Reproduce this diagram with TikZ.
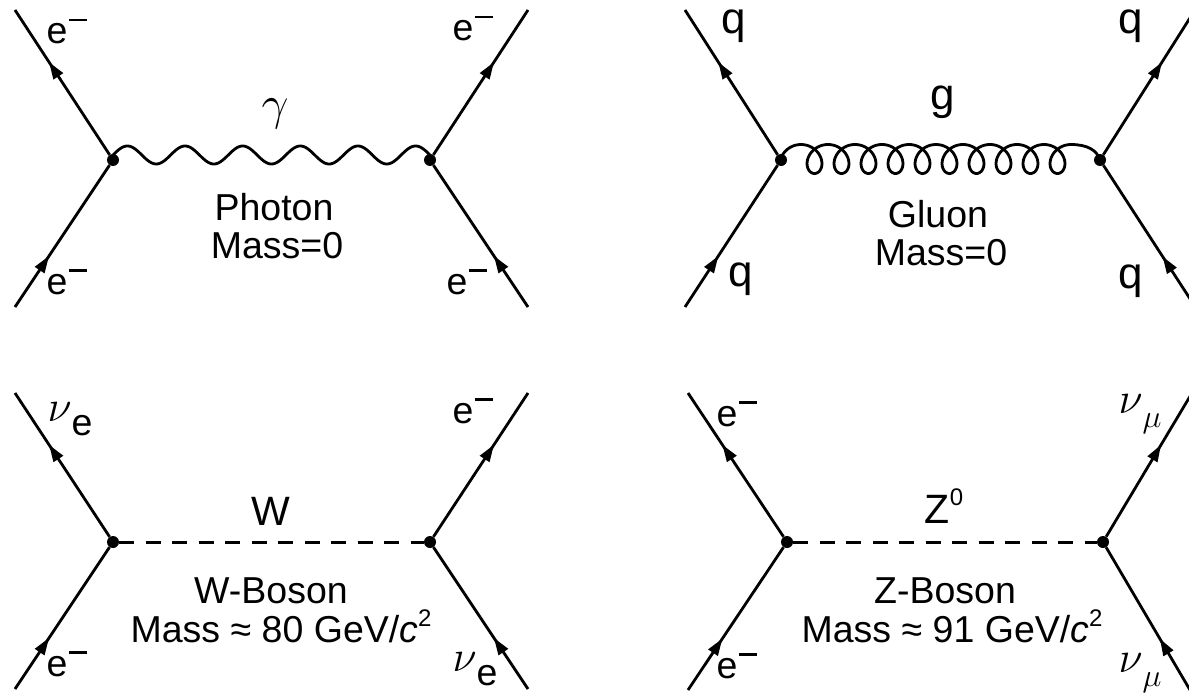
\RequirePackage{fix-cm}
\documentclass[tikz,border=0pt]{standalone}
\usepackage{fontspec}
\setmainfont{Liberation Sans}
\usetikzlibrary{decorations.markings,arrows.meta}
\newcommand{\elec}{e\kern0.05em\rule[0.6em]{0.48em}{0.075em}}
\newcommand{\nue}{{\fontsize{44}{48}\selectfont$\nu$}\raisebox{-14pt}{e}}
\newcommand{\numu}{{\fontsize{44}{48}\selectfont$\nu$}\raisebox{-14pt}{\fontsize{32}{36}\selectfont$\mu$}}
\newcommand{\csq}{\textit{c}\raisebox{0.42em}{\fontsize{24}{24}\selectfont 2}}
\begin{document}
\begin{tikzpicture}[x=1pt,y=-1pt,
  vtx/.style={circle,fill,inner sep=0pt,minimum size=12pt},
  fer/.style={line width=2.8pt, postaction={decorate},
    decoration={markings, mark=at position #1 with {\arrow{Triangle[length=17pt,width=11pt]}}}},
  bline/.style={line width=2.8pt, line join=round},
  boson/.style={line width=3pt, dash pattern=on 15pt off 11.5pt},
  lbl/.style={inner sep=0pt, anchor=base, font=\fontsize{37.5}{42}\selectfont},
  big/.style={lbl, font=\fontsize{41}{46}\selectfont},
  mid/.style={lbl, font=\fontsize{44}{48}\selectfont},
]
\useasboundingbox (0,0) rectangle (1189,693);

% ---------- top-left: photon ----------
\node[vtx] (A1) at (113,160) {};
\node[vtx] (A2) at (430,160) {};
\coordinate (a1) at (15,10);
\coordinate (a2) at (15,307);
\coordinate (a3) at (528,10);
\coordinate (a4) at (528,307);
\draw[fer=0.64] (A1) -- (a1);
\draw[fer=0.36] (a2) -- (A1);
\draw[fer=0.64] (A2) -- (a3);
\draw[fer=0.36] (a4) -- (A2);
\draw[bline] (A1.center) -- plot[domain=0:317, samples=300] ({113+\x},{155-9*sin(\x*6.246)}) -- (A2.center);
\node[lbl] (la1) at (67,44) {\elec};
\node[lbl] (la2) at (67,294) {\elec};
\node[lbl] (la3) at (473,41) {\elec};
\node[lbl] (la4) at (467,294) {\elec};
\node[lbl] (lag) at (275,119) {\fontsize{48}{52}\selectfont$\gamma$};
\node[lbl] (lat1) at (274,220) {Photon};
\node[lbl] (lat2) at (277,258) {Mass=0};

% ---------- top-right: gluon ----------
\node[vtx] (B1) at (781,160) {};
\node[vtx] (B2) at (1100,160) {};
\coordinate (b1) at (685,10);
\coordinate (b2) at (685,307);
\coordinate (b3) at (1195,10);
\coordinate (b4) at (1196,308);
\draw[fer=0.64] (B1) -- (b1);
\draw[fer=0.36] (b2) -- (B1);
\draw[fer=0.64] (B2) -- (b3);
\draw[fer=0.36] (b4) -- (B2);
\draw[bline] (B1.center) -- plot[domain=-90:3600, samples=700] ({801+0.075*\x+13.5*sin(\x)},{159-14.5*cos(\x)})
   .. controls (1087,144.5) and (1097,150) .. (B2.center);
\node[mid] (lb1) at (734,34) {q};
\node[mid] (lb2) at (741,286) {q};
\node[mid] (lb3) at (1131,34) {q};
\node[mid] (lb4) at (1131,288) {q};
\node[mid] (lbg) at (943,109) {g};
\node[lbl] (lbt1) at (938,227) {Gluon};
\node[lbl] (lbt2) at (941,265) {Mass=0};

% ---------- bottom-left: W ----------
\node[vtx] (C1) at (113,542) {};
\node[vtx] (C2) at (430,542) {};
\coordinate (c1) at (15,393);
\coordinate (c2) at (15,689);
\coordinate (c3) at (528,393);
\coordinate (c4) at (528,689);
\draw[fer=0.64] (C1) -- (c1);
\draw[fer=0.36] (c2) -- (C1);
\draw[fer=0.64] (C2) -- (c3);
\draw[fer=0.36] (c4) -- (C2);
\draw[boson] (C1) -- (C2);
\node[lbl] (lc1) at (70,421) {\nue};
\node[lbl] (lc2) at (67,676) {\elec};
\node[lbl] (lc3) at (473,423) {\elec};
\node[lbl] (lc4) at (475,671) {\nue};
\node[big] (lcw) at (271,525) {W};
\node[lbl] (lct1) at (271,603) {W-Boson};
\node[lbl] (lct2) at (281,642) {Mass\hspace{0.28em}≈\hspace{0.28em}80 GeV/\csq};

% ---------- bottom-right: Z ----------
\node[vtx] (D1) at (787,542) {};
\node[vtx] (D2) at (1103,542) {};
\coordinate (d1) at (688,393);
\coordinate (d2) at (688,690);
\coordinate (d3) at (1192,393);
\coordinate (d4) at (1190,690);
\draw[fer=0.64] (D1) -- (d1);
\draw[fer=0.36] (d2) -- (D1);
\draw[fer=0.64] (D2) -- (d3);
\draw[fer=0.36] (d4) -- (D2);
\draw[boson] (D1) -- (D2);
\node[lbl] (ld1) at (737,426) {\elec};
\node[lbl] (ld2) at (737,678) {\elec};
\node[lbl] (ld3) at (1140,413) {\numu};
\node[lbl] (ld4) at (1140,672) {\numu};
\node[big] (ldz) at (944,523) {Z\raisebox{0.43em}{\fontsize{24}{24}\selectfont 0}};
\node[lbl] (ldt1) at (945,603) {Z-Boson};
\node[lbl] (ldt2) at (952,642) {Mass\hspace{0.28em}≈\hspace{0.28em}91 GeV/\csq};
\end{tikzpicture}
\end{document}
